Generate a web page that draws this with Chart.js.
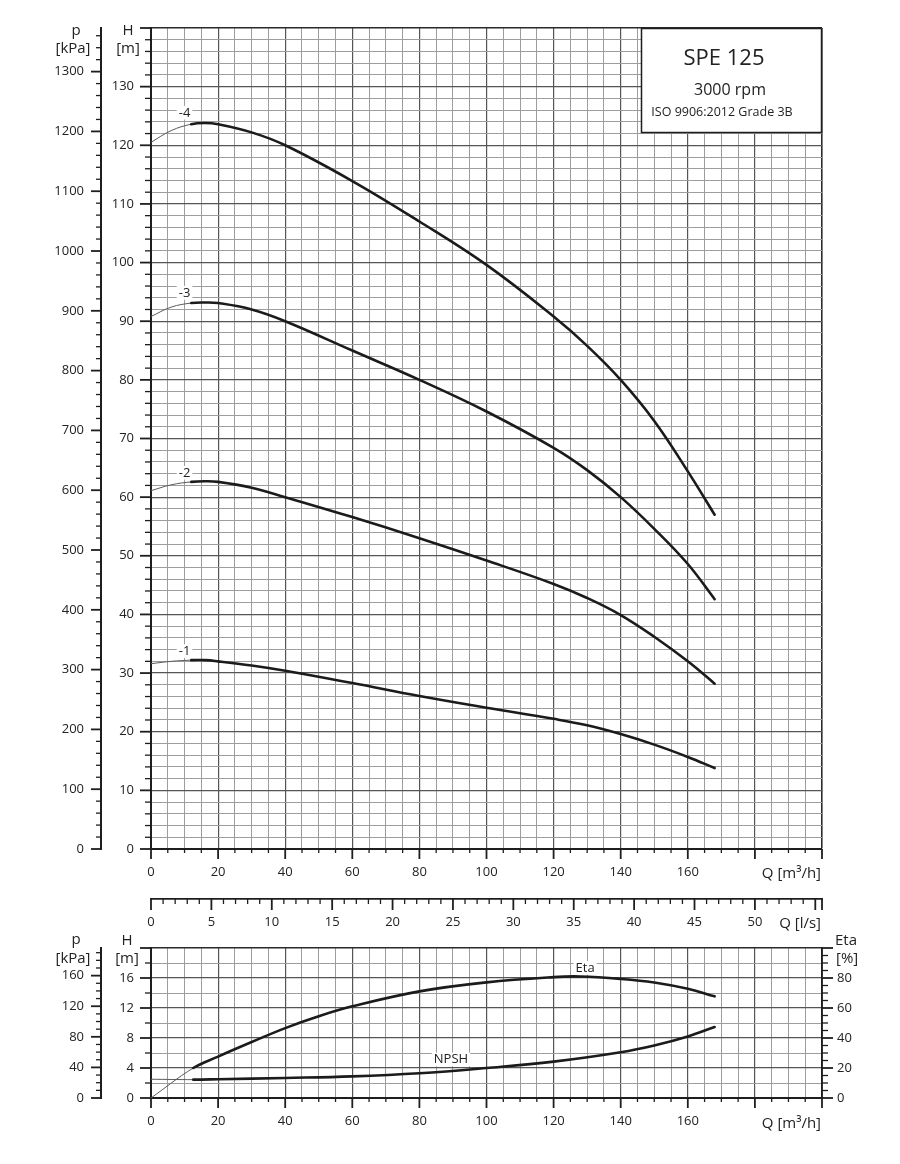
<!DOCTYPE html>
<html><head><meta charset="utf-8">
<script src="https://cdn.jsdelivr.net/npm/chart.js@4.4.1/dist/chart.umd.min.js"></script>
<style>
html,body{margin:0;padding:0;background:#fff;}
#wrap{position:relative;width:900px;height:1164px;background:#fff;}
canvas{position:absolute;left:0;top:0;}
</style></head><body>
<div id="wrap"><canvas id="topc" width="900" height="1164"></canvas><canvas id="botc" width="900" height="1164"></canvas></div>
<script>
// ---------- data ----------
const flowTop = [0, 6, 12, 16, 20, 30, 40, 60, 80, 100, 120, 130, 140, 150, 160, 168];
const head1 = [31.6, 32.0, 32.2, 32.2, 32.0, 31.3, 30.4, 28.3, 26.1, 24.1, 22.2, 21.1, 19.6, 17.8, 15.7, 13.8];
const head2 = [61.1, 62.1, 62.6, 62.7, 62.6, 61.6, 60.0, 56.6, 53.0, 49.2, 45.2, 42.8, 39.9, 36.2, 32.0, 28.2];
const head3 = [90.8, 92.4, 93.1, 93.2, 93.1, 92.0, 90.0, 85.0, 80.0, 74.6, 68.4, 64.6, 60.0, 54.6, 48.6, 42.6];
const head4 = [120.5, 122.5, 123.6, 123.8, 123.6, 122.2, 120.0, 113.9, 107.0, 99.6, 90.8, 85.8, 80.0, 73.0, 64.4, 57.0];
const stageNames = ['-1', '-2', '-3', '-4'];
const stageLabelQ = [10, 10, 10, 10];
const stageLabelH = [33.7, 64.1, 94.8, 125.5];

const flowEta = [0, 12.6, 20, 30, 40, 50, 60, 80, 100, 120, 128, 140, 150, 160, 168];
const eta = [0, 20, 27.6, 37.3, 46.6, 54.5, 61.1, 71.1, 77.1, 80.6, 81.0, 79.4, 77.0, 72.8, 67.8];
const flowNpsh = [0, 12.6, 20, 40, 60, 80, 100, 120, 140, 150, 160, 168];
const npsh = [2.5, 2.45, 2.5, 2.67, 2.88, 3.3, 4.0, 4.85, 6.1, 7.0, 8.2, 9.47];

// tick labels
const qTickLabels = [0, 20, 40, 60, 80, 100, 120, 140, 160];
const lsTickLabels = [0, 5, 10, 15, 20, 25, 30, 35, 40, 45, 50];
const hTopTickLabels = [0, 10, 20, 30, 40, 50, 60, 70, 80, 90, 100, 110, 120, 130];
const pTopTickLabels = [0, 100, 200, 300, 400, 500, 600, 700, 800, 900, 1000, 1100, 1200, 1300];
const hBotTickLabels = [0, 4, 8, 12, 16];
const pBotTickLabels = [0, 40, 80, 120, 160];
const etaTickLabels = [0, 20, 40, 60, 80];

// ---------- constants ----------
const Q_MAX = 200, H_TOP_MAX = 140, H_BOT_MAX = 20, ETA_MAX = 100, KPA_PER_M = 9.80665;
const FONT = '"Open Sans", "DejaVu Sans", sans-serif';
const TXT = '#222', AXIS = '#1e1e1e', MAJOR = '#555', MINOR = '#9d9d9d', EDGE = '#2a2a2a';
const CURVE = '#1b1b1b', THIN = '#5a5a5a';

function steps(a, b, s) { const o = []; for (let v = a; v <= b + 1e-9; v += s) o.push(Math.round(v * 1000) / 1000); return o; }
function pts(xs, ys) { return xs.map((x, i) => ({x: x, y: ys[i]})); }
function fixedTicks(values) { return s => { s.ticks = values.map(v => ({value: v})); }; }
function lineStyle(cut) {
  return {
    borderColor: CURVE, borderWidth: 2.6, pointRadius: 0, fill: false,
    tension: 0.4, borderCapStyle: 'round',
    segment: {
      borderWidth: c => c.p0.parsed.x < cut ? 1 : 2.6,
      borderColor: c => c.p0.parsed.x < cut ? THIN : CURVE
    }
  };
}
const tickFont = {family: FONT, size: 13};

function qScale(pad, height) {
  return {
    type: 'linear', position: 'bottom', min: 0, max: Q_MAX, weight: 0,
    afterBuildTicks: fixedTicks(steps(0, Q_MAX, 5)),
    afterFit: s => { s.height = height; },
    grid: {
      drawTicks: false,
      color: c => c.tick.value === Q_MAX ? EDGE : (c.tick.value % 20 === 0 ? MAJOR : MINOR),
      lineWidth: c => c.tick.value === Q_MAX ? 1.6 : (c.tick.value % 20 === 0 ? 1.2 : 1)
    },
    border: {display: true, color: AXIS, width: 2},
    ticks: {autoSkip: false, maxRotation: 0, minRotation: 0, padding: pad, color: TXT, font: tickFont,
      callback: v => qTickLabels.includes(v) ? String(v) : ''}
  };
}
function hScale(max, step, majorEvery, labels) {
  return {
    type: 'linear', position: 'left', min: 0, max: max, weight: 0,
    afterBuildTicks: fixedTicks(steps(0, max, step)),
    afterFit: s => { s.width = 50; },
    grid: {
      drawTicks: false,
      color: c => c.tick.value === max ? EDGE : (c.tick.value % majorEvery === 0 ? MAJOR : MINOR),
      lineWidth: c => c.tick.value === max ? 1.6 : (c.tick.value % majorEvery === 0 ? 1.2 : 1)
    },
    border: {display: true, color: AXIS, width: 2},
    ticks: {autoSkip: false, padding: 17, color: TXT, font: tickFont,
      callback: v => labels.includes(v) ? String(v) : ''}
  };
}
function pScale(maxH, labels) {
  return {
    type: 'linear', position: 'left', min: 0, max: maxH * KPA_PER_M, weight: 1,
    afterBuildTicks: fixedTicks(labels),
    afterFit: s => { s.width = 101; },
    grid: {drawOnChartArea: false, drawTicks: false},
    border: {display: true, color: AXIS, width: 2},
    ticks: {autoSkip: false, padding: 17, color: TXT, font: tickFont, callback: v => String(v)}
  };
}

function drawMarks(chart, specs) {
  const ctx = chart.ctx;
  ctx.save();
  ctx.strokeStyle = AXIS;
  specs.forEach(sp => {
    const s = chart.scales[sp.id];
    sp.values.forEach(v => {
      const major = sp.major(v);
      const len = major ? sp.maj : sp.min;
      ctx.lineWidth = major ? 1.8 : 1.3;
      const p = s.getPixelForValue(v);
      ctx.beginPath();
      if (s.position === 'left') { ctx.moveTo(s.right, p); ctx.lineTo(s.right - len, p); }
      else if (s.position === 'right') { ctx.moveTo(s.left, p); ctx.lineTo(s.left + len, p); }
      else { ctx.moveTo(p, s.top); ctx.lineTo(p, s.top + len); }
      ctx.stroke();
    });
  });
  ctx.restore();
}
function txt(ctx, str, x, y, size, align) {
  ctx.font = size + 'px ' + FONT;
  ctx.textAlign = align || 'center';
  ctx.textBaseline = 'alphabetic';
  ctx.fillStyle = TXT;
  ctx.fillText(str, x, y);
}
function haloLabel(ctx, str, x, y, size) {
  ctx.font = size + 'px ' + FONT;
  const w = ctx.measureText(str).width;
  ctx.fillStyle = '#fff';
  ctx.fillRect(x - w / 2 - 2, y - size * 0.55, w + 4, size * 1.05);
  ctx.fillStyle = TXT;
  ctx.textAlign = 'center';
  ctx.textBaseline = 'middle';
  ctx.fillText(str, x, y);
}

// ---------- top chart ----------
const topDecor = {
  id: 'topDecor',
  afterDatasetsDraw(chart) {
    const ctx = chart.ctx, x = chart.scales.x, y = chart.scales.yH;
    stageNames.forEach((n, i) => haloLabel(ctx, n, x.getPixelForValue(stageLabelQ[i]), y.getPixelForValue(stageLabelH[i]), 13));
  },
  afterDraw(chart) {
    const ctx = chart.ctx, a = chart.chartArea;
    drawMarks(chart, [
      {id: 'x', values: steps(0, Q_MAX, 5), major: v => v % 20 === 0, maj: 10, min: 4},
      {id: 'xls', values: steps(0, 55, 1).concat([Q_MAX / 3.6]), major: v => v % 5 === 0 || v > 55, maj: 11, min: 5},
      {id: 'yH', values: steps(0, H_TOP_MAX, 2), major: v => v % 10 === 0, maj: 11, min: 6},
      {id: 'yP', values: steps(0, 1360, 20), major: v => v % 100 === 0, maj: 10, min: 5}
    ]);
    const yP = chart.scales.yP, yH = chart.scales.yH;
    txt(ctx, 'p', yP.right - 25, a.top + 7, 15);
    txt(ctx, '[kPa]', yP.right - 28, a.top + 25, 15);
    txt(ctx, 'H', yH.right - 23, a.top + 7, 15);
    txt(ctx, '[m]', yH.right - 23, a.top + 25, 15);
    txt(ctx, 'Q [m\u00B3/h]', a.right - 1, 878, 15, 'right');
    txt(ctx, 'Q [l/s]', a.right - 1, 928, 15, 'right');
    // title box
    const bw = 181, bh = 104, bx = a.right - bw, by = a.top;
    ctx.save();
    ctx.fillStyle = '#fff';
    ctx.fillRect(bx, by, bw, bh);
    ctx.strokeStyle = AXIS; ctx.lineWidth = 1.5;
    ctx.strokeRect(bx + 0.5, by + 0.5, bw - 1, bh);
    ctx.restore();
    txt(ctx, 'SPE 125', bx + 83, by + 37, 22);
    txt(ctx, '3000 rpm', bx + 89, by + 67, 16);
    txt(ctx, 'ISO 9906:2012 Grade 3B', bx + 81, by + 88, 12.5);
  }
};

new Chart(document.getElementById('topc'), {
  type: 'line',
  data: {
    datasets: [head1, head2, head3, head4].map((h, i) => Object.assign({
      label: stageNames[i], data: pts(flowTop, h), xAxisID: 'x', yAxisID: 'yH'
    }, lineStyle(12)))
  },
  options: {
    responsive: false, animation: false, events: [],
    layout: {padding: {top: 28, left: 0, right: 78, bottom: 225}},
    plugins: {legend: {display: false}, tooltip: {enabled: false}},
    scales: {
      x: qScale(15.5, 50),
      xls: {
        type: 'linear', position: 'bottom', min: 0, max: Q_MAX / 3.6, weight: 1,
        afterBuildTicks: fixedTicks(lsTickLabels),
        afterFit: s => { s.height = 40; },
        grid: {drawOnChartArea: false, drawTicks: false},
        border: {display: true, color: AXIS, width: 1.8},
        ticks: {autoSkip: false, maxRotation: 0, minRotation: 0, padding: 15.5, color: TXT, font: tickFont, callback: v => String(v)}
      },
      yH: hScale(H_TOP_MAX, 2, 10, hTopTickLabels),
      yP: pScale(H_TOP_MAX, pTopTickLabels)
    }
  },
  plugins: [topDecor]
});

// ---------- bottom chart ----------
const botDecor = {
  id: 'botDecor',
  afterDatasetsDraw(chart) {
    const ctx = chart.ctx, x = chart.scales.x;
    haloLabel(ctx, 'Eta', x.getPixelForValue(129.4), chart.scales.yEta.getPixelForValue(86.5), 13);
    haloLabel(ctx, 'NPSH', x.getPixelForValue(89.4), chart.scales.yH.getPixelForValue(5.1), 13);
  },
  afterDraw(chart) {
    const ctx = chart.ctx, a = chart.chartArea;
    drawMarks(chart, [
      {id: 'x', values: steps(0, Q_MAX, 5), major: v => v % 20 === 0, maj: 10, min: 4},
      {id: 'yH', values: steps(0, H_BOT_MAX, 2), major: v => v % 4 === 0, maj: 11, min: 6},
      {id: 'yP', values: steps(0, 190, 10), major: v => v % 40 === 0, maj: 10, min: 5},
      {id: 'yEta', values: steps(0, ETA_MAX, 5), major: v => v % 20 === 0, maj: 11, min: 6}
    ]);
    const yP = chart.scales.yP, yH = chart.scales.yH, yE = chart.scales.yEta;
    txt(ctx, 'p', yP.right - 25, a.top - 4, 15);
    txt(ctx, '[kPa]', yP.right - 28, a.top + 15, 15);
    txt(ctx, 'H', yH.right - 24, a.top - 3, 15);
    txt(ctx, '[m]', yH.right - 24, a.top + 15, 15);
    txt(ctx, 'Eta', yE.left + 13, a.top - 3, 15, 'left');
    txt(ctx, '[%]', yE.left + 14, a.top + 15, 15, 'left');
    txt(ctx, 'Q [m\u00B3/h]', a.right - 1, 1127.5, 15, 'right');
  }
};

new Chart(document.getElementById('botc'), {
  type: 'line',
  data: {
    datasets: [
      Object.assign({label: 'NPSH', data: pts(flowNpsh, npsh), xAxisID: 'x', yAxisID: 'yH'}, lineStyle(12)),
      Object.assign({label: 'Eta', data: pts(flowEta, eta), xAxisID: 'x', yAxisID: 'yEta'}, lineStyle(12))
    ]
  },
  options: {
    responsive: false, animation: false, events: [],
    layout: {padding: {top: 948, left: 0, right: 18, bottom: 26}},
    plugins: {legend: {display: false}, tooltip: {enabled: false}},
    scales: {
      x: qScale(15.5, 40),
      yH: hScale(H_BOT_MAX, 2, 4, hBotTickLabels),
      yP: pScale(H_BOT_MAX, pBotTickLabels),
      yEta: {
        type: 'linear', position: 'right', min: 0, max: ETA_MAX, weight: 0,
        afterBuildTicks: fixedTicks(etaTickLabels),
        afterFit: s => { s.width = 60; },
        grid: {drawOnChartArea: false, drawTicks: false},
        border: {display: true, color: AXIS, width: 1.8},
        ticks: {autoSkip: false, padding: 15, color: TXT, font: tickFont, callback: v => String(v)}
      }
    }
  },
  plugins: [botDecor]
});
</script></body></html>
